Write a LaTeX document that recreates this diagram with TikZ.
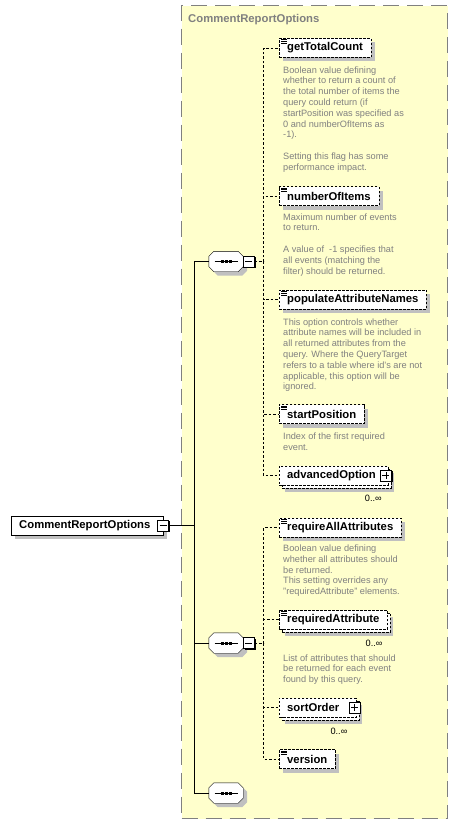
\documentclass[tikz,border=0pt]{standalone}
\usepackage{fontspec}
\setmainfont{Liberation Sans}
\usepackage{tikz}
\usetikzlibrary{
    positioning,
    shadows
}
\definecolor{PanelYellow}{RGB}{255,255,204}
\definecolor{PanelGray}{RGB}{128,128,128}
\definecolor{ShadowGray}{RGB}{192,192,192}

\begin{document}
\begin{tikzpicture}[
    x=1pt, y=-1pt,
    panel/.style={rectangle, draw=PanelGray, line width=1.2pt, dash pattern=on 16pt off 8pt, fill=PanelYellow, minimum width=266pt, minimum height=813pt, anchor=north west},
    paneltitle/.style={inner sep=0pt, text=PanelGray, font=\fontsize{11.3}{13}\selectfont\bfseries},
    elbox/.style={rectangle, fill=white, minimum height=19pt, inner xsep=8pt, inner ysep=0pt, anchor=west, font=\fontsize{11.3}{13}\selectfont\bfseries},
    rootbox/.style={elbox, draw, drop shadow={shadow xshift=4pt, shadow yshift=-4pt, fill=ShadowGray, opacity=1}},
    elem/.style={elbox, draw, dash pattern=on 2.5pt off 1.5pt, drop shadow={shadow xshift=4pt, shadow yshift=-4pt, fill=ShadowGray, opacity=1}},
    stackbox/.style={elbox, draw, dash pattern=on 2.5pt off 1.5pt, drop shadow={shadow xshift=6pt, shadow yshift=-7pt, fill=ShadowGray, opacity=1}, general shadow={shadow xshift=3pt, shadow yshift=-3pt, fill=white, draw=black, dash pattern=on 2.5pt off 1.5pt}},
    seqbox/.style={rectangle, minimum width=34pt, minimum height=20pt, inner sep=0pt},
    octagon/.style={draw, fill=white, drop shadow={shadow xshift=4pt, shadow yshift=-4pt, fill=ShadowGray, opacity=1}},
    tog/.style={rectangle, draw, fill=white, minimum size=11pt, inner sep=0pt, drop shadow={shadow xshift=1.2pt, shadow yshift=-1.2pt, fill=black, opacity=1}},
    minusbox/.style={tog, path picture={\draw ([xshift=-3.5pt]path picture bounding box.center) -- ([xshift=3.5pt]path picture bounding box.center);}},
    plusbox/.style={tog, path picture={\draw ([xshift=-3.5pt]path picture bounding box.center) -- ([xshift=3.5pt]path picture bounding box.center);
        \draw ([yshift=-3.5pt]path picture bounding box.center) -- ([yshift=3.5pt]path picture bounding box.center);}},
    docnote/.style={align=left, inner sep=0pt, text=PanelGray, font=\fontsize{9.2}{10.8}\selectfont},
    occurs/.style={inner sep=0pt, font=\fontsize{9.2}{10.8}\selectfont},
    wire/.style={draw, line width=0.8pt},
    conn/.style={draw, dash pattern=on 2.5pt off 2pt}
]
\useasboundingbox (0,0) rectangle (457,824);

% complex type panel
\node[panel] (crotype) at (181,5) {};
\node[paneltitle, below right=9.5pt and 7pt of crotype.north west] (crotitle) {CommentReportOptions};

% root element
\node[rootbox] (cro) at (11,525.5) {CommentReportOptions\kern5pt};
\node[minusbox] (crom) at ([xshift=-0.5pt]cro.east) {};

% sequences
\node[seqbox] (s1) at (226,261.5) {};
\node[seqbox] (s2) at (226,643) {};
\node[seqbox] (s3) at (226,793) {};
\foreach \s in {s1,s2,s3} {
    \draw[octagon] ([xshift=5pt]\s.north west) -- ([xshift=-5pt]\s.north east) -- ([yshift=-5pt]\s.north east) -- ([yshift=5pt]\s.south east)
        -- ([xshift=-5pt]\s.south east) -- ([xshift=5pt]\s.south west) -- ([yshift=5pt]\s.south west) -- ([yshift=-5pt]\s.north west) -- cycle;
    \draw ([xshift=-11.5pt]\s.center) -- ([xshift=11.5pt]\s.center);
    \foreach \d in {-4,0,4}
        \fill[black] ([xshift=\d pt]\s.center) +(-1.5,-1.5) rectangle +(1.5,1.5);
}
\node[minusbox, anchor=west] (s1m) at (s1.east) {};
\node[minusbox, anchor=west] (s2m) at (s2.east) {};

% first sequence
\node[elem] (gtc) at (279,48) {getTotalCount};
\node[docnote, below right=8.5pt and 4pt of gtc.south west] (gtcdoc) {Boolean value defining\\whether to return a count of\\the total number of items the\\query could return (if\\startPosition was specified as\\0 and numberOfItems as\\-1).\\[10.8pt]Setting this flag has some\\performance impact.};
\node[elem] (noi) at (279,196) {numberOfItems};
\node[docnote, below right=7.5pt and 4pt of noi.south west] (noidoc) {Maximum number of events\\to return.\\[10.8pt]A value of~ -1 specifies that\\all events (matching the\\filter) should be returned.};
\node[elem] (pan) at (279,299.5) {populateAttributeNames};
\node[docnote, below right=9pt and 4pt of pan.south west] (pandoc) {This option controls whether\\attribute names will be included in\\all returned attributes from the\\query. Where the QueryTarget\\refers to a table where id's are not\\applicable, this option will be\\ignored.};
\node[elem] (sp) at (279,414) {startPosition};
\node[docnote, below right=9pt and 4pt of sp.south west] (spdoc) {Index of the first required\\event.};
\node[stackbox] (ao) at (279,475.5) {advancedOption\kern4pt};
\node[plusbox] (aop) at ([xshift=-2pt]ao.east) {};
\node[occurs, below left=10pt and 6pt of ao.south east] (aooc) {0..∞};

% second sequence
\node[elem] (raa) at (279,527.5) {requireAllAttributes};
\node[docnote, below right=7.5pt and 4pt of raa.south west] (raadoc) {Boolean value defining\\whether all attributes should\\be returned.\\This setting overrides any\\"requiredAttribute" elements.};
\node[stackbox] (ra) at (279,619.5) {requiredAttribute};
\node[occurs, below left=11pt and 5pt of ra.south east] (raoc) {0..∞};
\node[docnote, below right=25pt and 4pt of ra.south west] (radoc) {List of attributes that should\\be returned for each event\\found by this query.};
\node[stackbox] (so) at (279,707.5) {sortOrder\kern9pt};
\node[plusbox] (sop) at ([xshift=-2pt]so.east) {};
\node[occurs, below left=11pt and 9pt of so.south east] (sooc) {0..∞};
\node[elem] (ver) at (279,759) {version};

% simple type marks
\foreach \e in {gtc,noi,pan,sp,raa,ra,ver}
    \foreach \dy in {1.6,3.4,5.2}
        \draw[line width=0.8pt] ([xshift=2pt,yshift=-\dy pt]\e.north west) -- ++(6,0);

% connectors
\coordinate (trunk) at (194,525.5);
\draw[wire] (crom.east) -- (trunk);
\foreach \s in {s1,s2,s3}
    \draw[wire] (trunk) |- (\s.west);

\coordinate (b1) at ([xshift=9pt]s1m.east);
\draw[conn] (s1m.east) -- (b1);
\foreach \c in {gtc,noi,pan,sp,ao}
    \draw[conn] (b1) |- (\c.west);

\coordinate (b2) at ([xshift=9pt]s2m.east);
\draw[conn] (s2m.east) -- (b2);
\foreach \c in {raa,ra,so,ver}
    \draw[conn] (b2) |- (\c.west);
\end{tikzpicture}
\end{document}
